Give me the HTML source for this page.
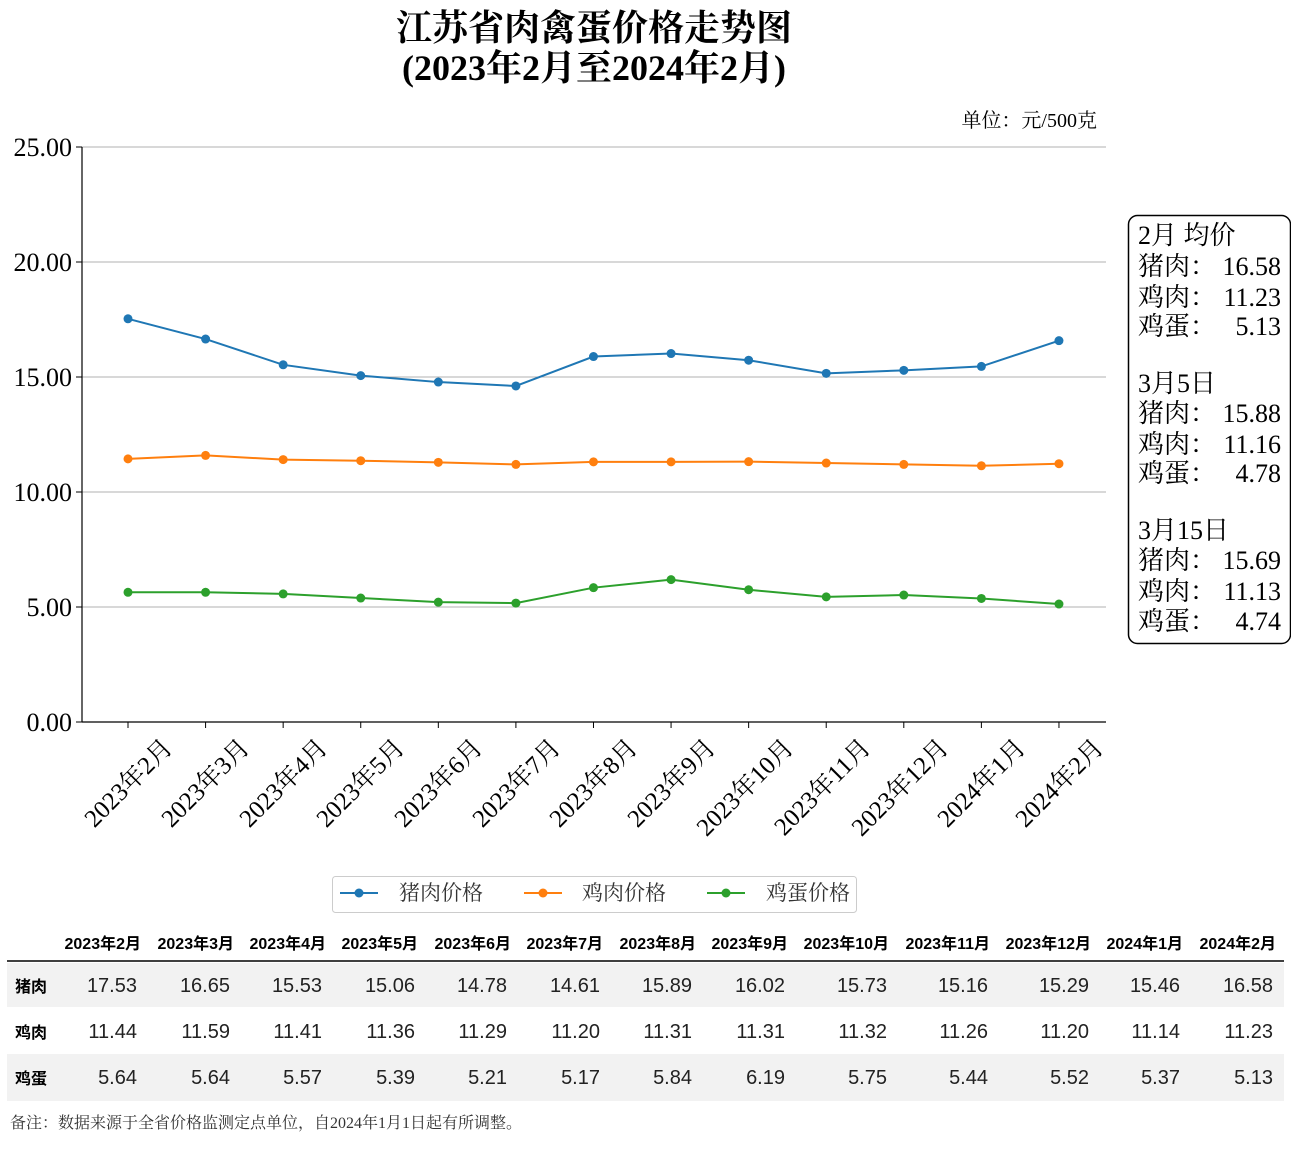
<!DOCTYPE html>
<html><head><meta charset="utf-8"><style>
body{margin:0;background:#fff;}
svg{display:block;}
.s{font-family:"Liberation Serif","Noto Serif CJK SC",serif;}
.a{font-family:"Liberation Sans","Noto Sans CJK SC",sans-serif;}
</style></head><body>
<svg id="c" width="1291" height="1152" viewBox="0 0 1291 1152" xmlns="http://www.w3.org/2000/svg">
<rect width="1291" height="1152" fill="#fff"/>
<text class="s" x="594" y="40" font-size="36" font-weight="bold" text-anchor="middle">江苏省肉禽蛋价格走势图</text>
<text class="s" x="594" y="80" font-size="36" font-weight="bold" text-anchor="middle">(2023年2月至2024年2月)</text>
<text class="s" x="1097" y="127" font-size="20" text-anchor="end">单位：元/500克</text>
<g stroke="#b0b0b0" stroke-width="1">
<line x1="82" y1="147" x2="1106" y2="147"/><line x1="82" y1="262" x2="1106" y2="262"/>
<line x1="82" y1="377" x2="1106" y2="377"/><line x1="82" y1="492" x2="1106" y2="492"/>
<line x1="82" y1="607" x2="1106" y2="607"/></g>
<line x1="82" y1="722" x2="1106" y2="722" stroke="#000" stroke-width="1.2"/>
<line x1="82" y1="147" x2="82" y2="722" stroke="#000" stroke-width="1.2"/>
<g class="s" font-size="26" text-anchor="end">
<text x="72" y="156">25.00</text><text x="72" y="271">20.00</text><text x="72" y="386">15.00</text>
<text x="72" y="501">10.00</text><text x="72" y="616">5.00</text><text x="72" y="731">0.00</text>
<line x1="76" y1="147" x2="82" y2="147" stroke="#000"/><line x1="76" y1="262" x2="82" y2="262" stroke="#000"/>
<line x1="76" y1="377" x2="82" y2="377" stroke="#000"/><line x1="76" y1="492" x2="82" y2="492" stroke="#000"/>
<line x1="76" y1="607" x2="82" y2="607" stroke="#000"/><line x1="76" y1="722" x2="82" y2="722" stroke="#000"/>
</g>
<g id="series"></g>
<g class="s" font-size="25" text-anchor="end">
<text transform="translate(174,749) rotate(-45)">2023年2月</text>
<text transform="translate(251,749) rotate(-45)">2023年3月</text>
<text transform="translate(329,749) rotate(-45)">2023年4月</text>
<text transform="translate(406,749) rotate(-45)">2023年5月</text>
<text transform="translate(484,749) rotate(-45)">2023年6月</text>
<text transform="translate(562,749) rotate(-45)">2023年7月</text>
<text transform="translate(639,749) rotate(-45)">2023年8月</text>
<text transform="translate(717,749) rotate(-45)">2023年9月</text>
<text transform="translate(795,749) rotate(-45)">2023年10月</text>
<text transform="translate(872,749) rotate(-45)">2023年11月</text>
<text transform="translate(950,749) rotate(-45)">2023年12月</text>
<text transform="translate(1027,749) rotate(-45)">2024年1月</text>
<text transform="translate(1105,749) rotate(-45)">2024年2月</text>
</g>
<rect x="1128.5" y="215.5" width="162" height="428" rx="9" fill="#fff" stroke="#000" stroke-width="1.5"/>
<g class="s" font-size="26">
<text x="1138" y="244">2月 均价</text>
<text x="1138" y="275">猪肉：</text><text x="1281" y="275" text-anchor="end">16.58</text>
<text x="1138" y="306">鸡肉：</text><text x="1281" y="306" text-anchor="end">11.23</text>
<text x="1138" y="335">鸡蛋：</text><text x="1281" y="335" text-anchor="end">5.13</text>
<text x="1138" y="392">3月5日</text>
<text x="1138" y="422">猪肉：</text><text x="1281" y="422" text-anchor="end">15.88</text>
<text x="1138" y="453">鸡肉：</text><text x="1281" y="453" text-anchor="end">11.16</text>
<text x="1138" y="482">鸡蛋：</text><text x="1281" y="482" text-anchor="end">4.78</text>
<text x="1138" y="539">3月15日</text>
<text x="1138" y="569">猪肉：</text><text x="1281" y="569" text-anchor="end">15.69</text>
<text x="1138" y="600">鸡肉：</text><text x="1281" y="600" text-anchor="end">11.13</text>
<text x="1138" y="630">鸡蛋：</text><text x="1281" y="630" text-anchor="end">4.74</text>
</g>
<rect x="332.5" y="876.5" width="524" height="36" rx="3" fill="#fff" stroke="#ccc"/>
<line x1="340" y1="893" x2="378" y2="893" stroke="#1f77b4" stroke-width="2"/><circle cx="359" cy="893" r="4.5" fill="#1f77b4"/>
<line x1="524" y1="893" x2="562" y2="893" stroke="#ff7f0e" stroke-width="2"/><circle cx="543" cy="893" r="4.5" fill="#ff7f0e"/>
<line x1="707" y1="893" x2="745" y2="893" stroke="#2ca02c" stroke-width="2"/><circle cx="726" cy="893" r="4.5" fill="#2ca02c"/>
<g class="s" font-size="21" fill="#333"><text x="399" y="900">猪肉价格</text><text x="582" y="900">鸡肉价格</text><text x="766" y="900">鸡蛋价格</text></g>
<rect x="7" y="963" width="1277" height="44" fill="#f2f2f2"/>
<rect x="7" y="1054" width="1277" height="47" fill="#f2f2f2"/>
<line x1="7" y1="961" x2="1284" y2="961" stroke="#000" stroke-width="1.5"/>
<g class="a" font-size="16" font-weight="bold" text-anchor="end">
<text x="141" y="949">2023年2月</text><text x="234" y="949">2023年3月</text><text x="326" y="949">2023年4月</text>
<text x="418" y="949">2023年5月</text><text x="511" y="949">2023年6月</text><text x="603" y="949">2023年7月</text>
<text x="696" y="949">2023年8月</text><text x="788" y="949">2023年9月</text><text x="889" y="949">2023年10月</text>
<text x="990" y="949">2023年11月</text><text x="1091" y="949">2023年12月</text><text x="1183" y="949">2024年1月</text>
<text x="1276" y="949">2024年2月</text>
<text x="47" y="992" text-anchor="end">猪肉</text><text x="47" y="1038" text-anchor="end">鸡肉</text><text x="47" y="1084" text-anchor="end">鸡蛋</text>
</g>
<g class="a" font-size="20" text-anchor="end" fill="#222">
<text x="137" y="992">17.53</text><text x="230" y="992">16.65</text><text x="322" y="992">15.53</text><text x="415" y="992">15.06</text><text x="507" y="992">14.78</text><text x="600" y="992">14.61</text><text x="692" y="992">15.89</text><text x="785" y="992">16.02</text><text x="887" y="992">15.73</text><text x="988" y="992">15.16</text><text x="1089" y="992">15.29</text><text x="1180" y="992">15.46</text><text x="1273" y="992">16.58</text>
<text x="137" y="1038">11.44</text><text x="230" y="1038">11.59</text><text x="322" y="1038">11.41</text><text x="415" y="1038">11.36</text><text x="507" y="1038">11.29</text><text x="600" y="1038">11.20</text><text x="692" y="1038">11.31</text><text x="785" y="1038">11.31</text><text x="887" y="1038">11.32</text><text x="988" y="1038">11.26</text><text x="1089" y="1038">11.20</text><text x="1180" y="1038">11.14</text><text x="1273" y="1038">11.23</text>
<text x="137" y="1084">5.64</text><text x="230" y="1084">5.64</text><text x="322" y="1084">5.57</text><text x="415" y="1084">5.39</text><text x="507" y="1084">5.21</text><text x="600" y="1084">5.17</text><text x="692" y="1084">5.84</text><text x="785" y="1084">6.19</text><text x="887" y="1084">5.75</text><text x="988" y="1084">5.44</text><text x="1089" y="1084">5.52</text><text x="1180" y="1084">5.37</text><text x="1273" y="1084">5.13</text>
</g>
<text class="s" x="10" y="1128" font-size="16" fill="#333">备注：数据来源于全省价格监测定点单位，自2024年1月1日起有所调整。</text>
</svg>
<script>
var D=[["#1f77b4",[17.53,16.65,15.53,15.06,14.78,14.61,15.89,16.02,15.73,15.16,15.29,15.46,16.58]],
["#ff7f0e",[11.44,11.59,11.41,11.36,11.29,11.20,11.31,11.31,11.32,11.26,11.20,11.14,11.23]],
["#2ca02c",[5.64,5.64,5.57,5.39,5.21,5.17,5.84,6.19,5.75,5.44,5.52,5.37,5.13]]];
var g=document.getElementById("series"),h="";
for(var i=0;i<13;i++){var x=128+i*77.58;h+='<line x1="'+x+'" y1="722" x2="'+x+'" y2="728" stroke="#000"/>';}
D.forEach(function(s){var p=s[1].map(function(v,i){return (128+i*77.58)+","+(722-23*v)}).join(" ");
h+='<polyline points="'+p+'" fill="none" stroke="'+s[0]+'" stroke-width="2"/>';
s[1].forEach(function(v,i){h+='<circle cx="'+(128+i*77.58)+'" cy="'+(722-23*v)+'" r="4.5" fill="'+s[0]+'"/>';});});
g.innerHTML=h;
</script>
</body></html>
